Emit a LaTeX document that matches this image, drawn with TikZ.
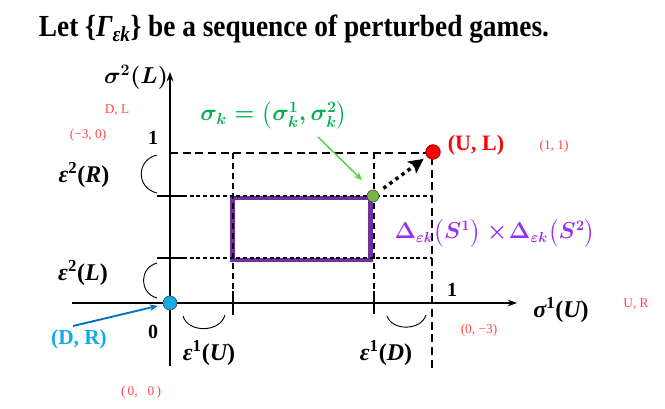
\documentclass[tikz,border=0pt]{standalone}
\usepackage{amsmath}
\usepackage{fontspec}
\setmainfont{Liberation Serif}
\usetikzlibrary{arrows.meta}
\definecolor{redlbl}{RGB}{255,70,70}
\definecolor{ptred}{RGB}{255,0,0}
\definecolor{cyanb}{RGB}{20,170,230}
\definecolor{bluearr}{RGB}{0,112,192}
\definecolor{gtext}{RGB}{0,176,80}
\definecolor{garrow}{RGB}{70,215,60}
\definecolor{gdot}{RGB}{120,180,70}
\definecolor{rectp}{RGB}{112,48,160}
\definecolor{deltap}{RGB}{150,50,240}
\newcommand\pairlbl[3]{{\bfseries\itshape #1}\textsuperscript{\bfseries #2}{\bfseries(}{\bfseries\itshape #3}{\bfseries)}}
\begin{document}
\begin{tikzpicture}[x=0.75pt,y=-0.75pt,
  axis/.style={line width=1.8pt,-{Stealth[length=7pt,width=5pt]}},
  longdash/.style={line width=1.3pt,dash pattern=on 6pt off 3.5pt},
  middash/.style={line width=1.3pt,dash pattern=on 4.5pt off 3pt},
  shortdash/.style={line width=1pt,dash pattern=on 3pt off 2pt},
  tickln/.style={line width=1.5pt},
  brk/.style={line width=0.7pt},
  mlbl/.style={font=\fontsize{17}{20}\selectfont\boldmath,inner sep=0pt},
  tlbl/.style={font=\fontsize{18}{20}\selectfont,inner sep=0pt},
  numlbl/.style={font=\fontsize{15}{18}\selectfont\bfseries,inner sep=0pt},
  redsmall/.style={font=\fontsize{10}{12}\selectfont,text=redlbl,inner sep=0pt},
  dotpt/.style={circle,draw=black!70,line width=0.5pt,inner sep=0pt}]
\useasboundingbox (0,0) rectangle (665,408);

% title
\node[inner sep=0pt,font=\fontsize{20.5}{24}\selectfont\bfseries] (title) at (294,29) {\scalebox{1}[1.12]{Let \{{\itshape Γ}\textsubscript{\itshape εk}\} be a sequence of perturbed games.}};

% coordinates
\coordinate (xs) at (72,303);
\coordinate (xe) at (517,303);
\coordinate (yb) at (170,366);
\coordinate (yt) at (170,72);

% purple rectangle
\draw[rectp,line width=3.4pt] (232.5,198) rectangle (370.5,260);

% dashed lines
\coordinate (t0) at (170,153);
\coordinate (t1) at (432,153);
\coordinate (t2) at (432,368);
\draw[longdash] (t0) -- (t1) -- (t2);
\coordinate (a0) at (233,153); \coordinate (a1) at (233,298);
\coordinate (b0) at (374,153); \coordinate (b1) at (374,298);
\draw[middash] (a0) -- (a1);
\draw[middash] (b0) -- (b1);
\coordinate (at0) at (233,291); \coordinate (at1) at (233,315);
\coordinate (bt0) at (374,291); \coordinate (bt1) at (374,314);
\draw[tickln] (at0) -- (at1);
\draw[tickln] (bt0) -- (bt1);
\coordinate (r0) at (157,196); \coordinate (r1) at (183,196); \coordinate (r2) at (432,196);
\coordinate (l0) at (157,258); \coordinate (l1) at (183,258); \coordinate (l2) at (432,258);
\draw[tickln] (r0) -- (r1);
\draw[tickln] (l0) -- (l1);
\draw[shortdash] (r1) -- (r2);
\draw[shortdash] (l1) -- (l2);

% axes
\draw[axis] (xs) -- (xe);
\draw[axis] (yb) -- (yt);

% brackets
\coordinate (er0) at (157,155); \coordinate (er1) at (157,193);
\draw[brk] (er0) .. controls (136,160) and (136,188) .. (er1);
\coordinate (el0) at (157,263); \coordinate (el1) at (157,298);
\draw[brk] (el0) .. controls (139,268) and (139,293) .. (el1);
\coordinate (eu0) at (183,316); \coordinate (eu1) at (225,315);
\draw[brk] (eu0) .. controls (188,333) and (220,333) .. (eu1);
\coordinate (ed0) at (387,316); \coordinate (ed1) at (426,315);
\draw[brk] (ed0) .. controls (392,331) and (421,331) .. (ed1);

% points
\node[dotpt,fill=cyanb,minimum size=10.5pt] (dr) at (170,303) {};
\node[dotpt,fill=gdot,minimum size=9pt] (gk) at (373,196) {};
\node[dotpt,fill=ptred,draw=red!60!black,minimum size=11pt] (ul) at (433,152) {};

% dotted arrow
\draw[line width=2.6pt,dash pattern=on 2.6pt off 3pt,-{Stealth[length=11pt,width=11pt,inset=2.5pt]},shorten <=5pt,shorten >=3pt] (gk) -- (ul);

% labels
\node[mlbl] (s2) at (136,77) {$\sigma^2(L)$};
\node[redsmall] (dl) at (117,110) {D, L};
\node[redsmall] (m30) at (88,135) {(−3, 0)};
\node[numlbl] (one2) at (153,138) {1};
\node[tlbl] (e2r) at (84,175) {\pairlbl{ε}{2}{R}};
\node[tlbl] (e2l) at (83,273) {\pairlbl{ε}{2}{L}};
\node[numlbl,text=cyanb,font=\fontsize{16}{18}\selectfont\bfseries] (drl) at (79,339) {(D, R)};
\node[numlbl] (zero) at (153,332) {0};
\node[tlbl] (e1u) at (209,353) {\pairlbl{ε}{1}{U}};
\node[tlbl] (e1d) at (386,353) {\pairlbl{ε}{1}{D}};
\node[numlbl] (one1) at (452,290) {1};
\node[tlbl] (s1) at (561,310) {\pairlbl{σ}{1}{U}};
\node[redsmall] (urs) at (636,304) {U, R};
\node[redsmall] (m03) at (479,330) {(0, −3)};
\node[redsmall] (o00) at (141,392) {(\,0,\ \ \ 0\,)};
\node[numlbl,text=ptred,font=\fontsize{16.5}{18}\selectfont\bfseries] (ull) at (476,145) {(U, L)};
\node[redsmall] (o11) at (554,146) {(1, 1)};
\node[mlbl,text=gtext] (sk) at (274,115) {$\sigma_k=\bigl(\sigma_k^1,\sigma_k^2\bigr)$};
\node[mlbl,text=deltap,font=\fontsize{16}{19}\selectfont\boldmath] (dl2) at (495,233) {$\Delta_{\varepsilon k}\bigl(S^1\bigr)\times\!\Delta_{\varepsilon k}\bigl(S^2\bigr)$};

% arrows
\coordinate (g1) at (318,137);
\coordinate (g2) at (362,180);
\draw[garrow,line width=1.1pt,-{Stealth[length=6pt,width=5pt]}] (g1) -- (g2);
\coordinate (b1s) at (73,326);
\draw[bluearr,line width=1.4pt,-{Stealth[length=6pt,width=5pt]},shorten >=4pt] (b1s) -- (dr);
\end{tikzpicture}
\end{document}
